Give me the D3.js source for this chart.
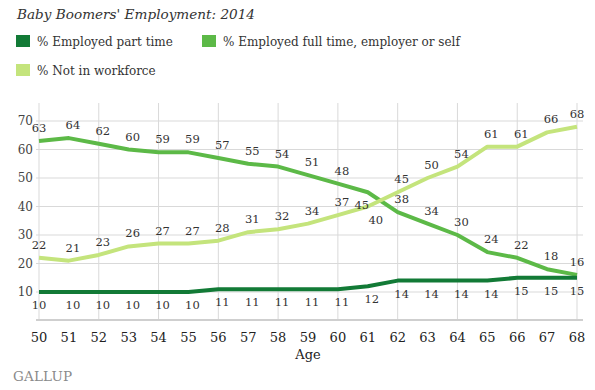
<!DOCTYPE html>
<html><head><meta charset="utf-8">
<script src="https://cdn.jsdelivr.net/npm/d3@7"></script>
<style>body{margin:0;background:#fff}svg{display:block}</style></head>
<body><svg id="c" width="595" height="390"></svg>
<script>
const ages = [50,51,52,53,54,55,56,57,58,59,60,61,62,63,64,65,66,67,68];
const partTime = [10,10,10,10,10,10,11,11,11,11,11,12,14,14,14,14,15,15,15];
const fullTime = [63,64,62,60,59,59,57,55,54,51,48,45,38,34,30,24,22,18,16];
const notInWorkforce = [22,21,23,26,27,27,28,31,32,34,37,40,45,50,54,61,61,66,68];
const yTicks = [10,20,30,40,50,60,70];
const xGridAges = [50,52,54,56,58,60,62,64,66,68];
const seriesNames = ["% Employed part time","% Employed full time, employer or self","% Not in workforce"];
const title = "Baby Boomers' Employment: 2014";
const xTitle = "Age";
const source = "GALLUP";

const colors = {part:"#127a36", full:"#5cb947", notw:"#c4e47c"};
const serif = "'DejaVu Serif', 'Liberation Serif', serif";
const svg = d3.select("#c");

const x = d3.scaleLinear().domain([50,68]).range([39,577]);
const y = d3.scaleLinear().domain([0,70]).range([320.5,121]);
const plotTop = 103;

// title
svg.append("text").attr("x",17).attr("y",19).attr("font-family",serif)
  .attr("font-style","italic").attr("font-size",13.6).attr("fill","#333").text(title);

// legend
const leg = [
  {name:seriesNames[0], c:colors.part, x:16, y:35},
  {name:seriesNames[1], c:colors.full, x:202, y:35},
  {name:seriesNames[2], c:colors.notw, x:16, y:64}
];
leg.forEach(d=>{
  svg.append("rect").attr("x",d.x).attr("y",d.y).attr("width",14).attr("height",12).attr("fill",d.c);
  svg.append("text").attr("x",d.x+21).attr("y",d.y+10.5).attr("font-family",serif)
    .attr("font-size",12).attr("fill","#333").text(d.name);
});

// grid
svg.append("g").selectAll("line").data(xGridAges).join("line")
  .attr("x1",d=>x(d)).attr("x2",d=>x(d)).attr("y1",plotTop).attr("y2",320)
  .attr("stroke","#d9d9d9").attr("stroke-width",1);
svg.append("g").selectAll("line").data(yTicks).join("line")
  .attr("x1",36).attr("x2",583).attr("y1",d=>y(d)).attr("y2",d=>y(d))
  .attr("stroke","#d9d9d9").attr("stroke-width",1);
svg.append("line").attr("x1",36).attr("x2",583).attr("y1",320).attr("y2",320)
  .attr("stroke","#cfcfcf").attr("stroke-width",2);

// y labels
svg.append("g").selectAll("text").data(yTicks).join("text")
  .attr("x",33).attr("y",d=>y(d)+4).attr("text-anchor","end")
  .attr("font-family",serif).attr("font-size",12).attr("fill","#444").text(d=>d);

// x labels
svg.append("g").selectAll("text").data(ages).join("text")
  .attr("x",d=>x(d)).attr("y",342).attr("text-anchor","middle")
  .attr("font-family",serif).attr("font-size",13).attr("fill","#222").text(d=>d);
svg.append("text").attr("x",x(59)).attr("y",359).attr("text-anchor","middle")
  .attr("font-family",serif).attr("font-size",13).attr("fill","#222").text(xTitle);

svg.append("text").attr("x",13).attr("y",381).attr("font-family",serif)
  .attr("font-size",13.5).attr("fill","#8a8a8a").attr("letter-spacing",0.2).text(source);

// lines
const line = d3.line().x((d,i)=>x(ages[i])).y(d=>y(d)).curve(d3.curveLinear);
[[fullTime,colors.full],[notInWorkforce,colors.notw],[partTime,colors.part]].forEach(([data,c])=>{
  svg.append("path").attr("d",line(data)).attr("fill","none").attr("stroke",c)
    .attr("stroke-width",4).attr("stroke-linejoin","round");
});

// value labels
const belowAges = [61];
function labels(data, defaultBelow, shiftBelow){
  svg.append("g").selectAll("text").data(data).join("text")
    .attr("x",(d,i)=>{
      let px=x(ages[i]);
      if(!defaultBelow && belowAges.includes(ages[i])) px+=shiftBelow;
      else if(i>0 && i<ages.length-1) px+=4;
      return px; })
    .attr("y",(d,i)=>{
      const below = defaultBelow || belowAges.includes(ages[i]);
      return below ? y(d)+17 : y(d)-9;
    })
    .attr("text-anchor","middle").attr("font-family",serif).attr("font-size",11.5)
    .attr("fill","#333").text(d=>d);
}
labels(fullTime,false,-6);
labels(notInWorkforce,false,8);
labels(partTime,true,0);
</script></body></html>
